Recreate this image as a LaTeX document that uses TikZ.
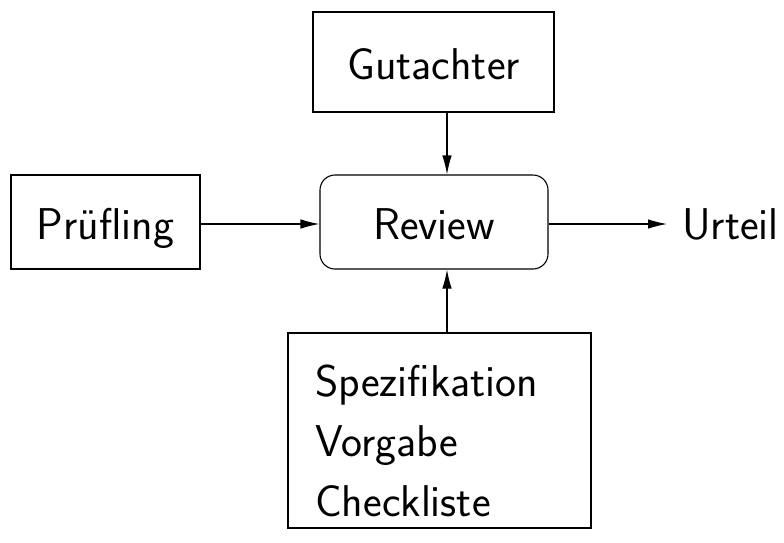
\documentclass[tikz,border=0pt]{standalone}
\usepackage{fontspec}
\usetikzlibrary{arrows.meta}
\begin{document}
\begin{tikzpicture}[x=1pt,y=-1pt,
  every node/.style={font=\sffamily\fontsize{44.5}{60}\selectfont},
  box/.style={draw,line width=1.1pt,inner sep=0pt,text height=34pt,text depth=0pt},
  arr/.style={line width=1.1pt,-{Latex[length=19pt,width=9.5pt]}}]
\useasboundingbox (0,0) rectangle (784,542);
\node[box,minimum width=241pt,minimum height=100pt] (gut) at (433.5,62) {Gutachter};
\node[box,minimum width=189pt,minimum height=94pt] (pruef) at (105.5,222) {Prüfling};
\node[box,rounded corners=15pt,minimum width=228pt,minimum height=94pt] (rev) at (434,222) {Review};
\node[inner xsep=15pt,inner ysep=0pt,anchor=base west] (urt) at (667,239) {Urteil};
\node[draw,line width=1.1pt,inner sep=0pt,minimum width=303pt,minimum height=195pt] (spec) at (439.5,430.5) {};
\node[inner sep=0pt,anchor=north west,align=left] (spectext) at (315,365) {Spezifikation\\Vorgabe\\Checkliste};
\draw[arr] ([xshift=13.5pt]gut.south) -- ([xshift=13.5pt]gut.south |- rev.north);
\draw[arr] ([xshift=13pt]rev.south |- spec.north) -- ([xshift=13pt]rev.south);
\draw[arr] ([yshift=-2pt]pruef.east) -- ([yshift=-2pt]pruef.east -| rev.west);
\draw[arr] ([yshift=-2pt]rev.east) -- ([yshift=-2pt]rev.east -| urt.west);
\end{tikzpicture}
\end{document}
